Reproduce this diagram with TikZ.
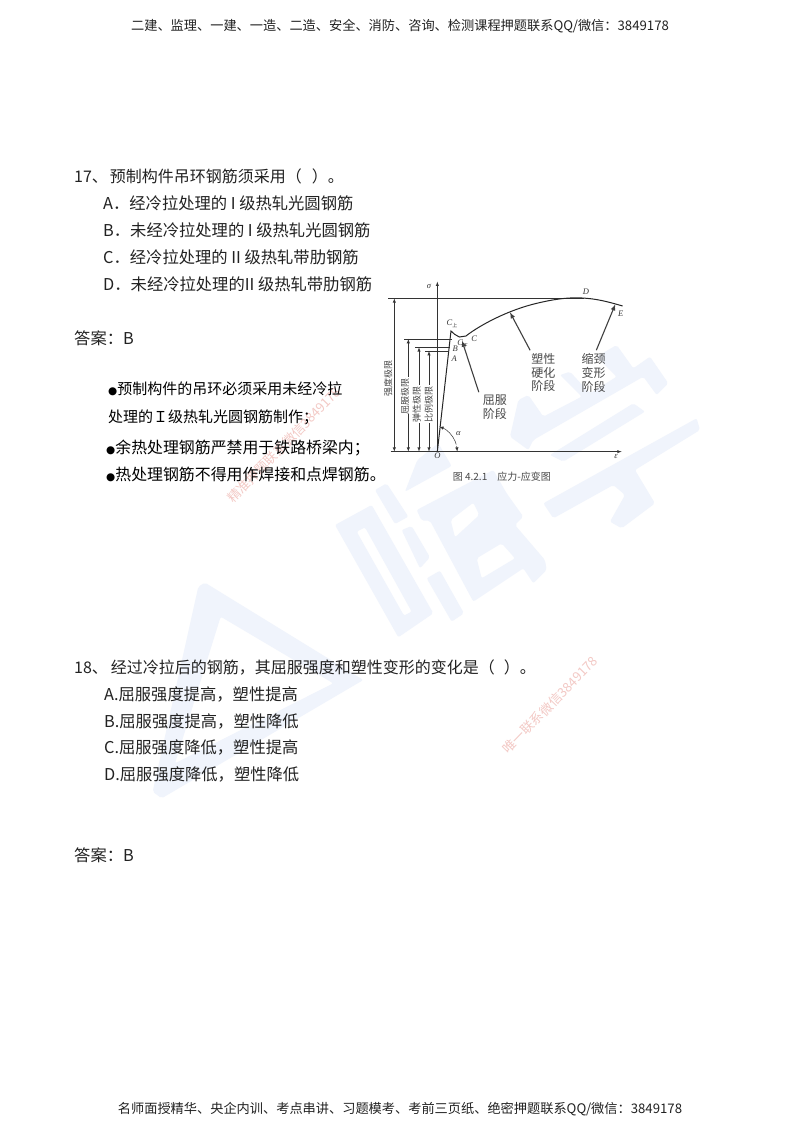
\documentclass[tikz,border=0pt]{standalone}
\usepackage{fontspec}
\setmainfont{Noto Sans CJK SC}
\newfontfamily\figfont{Liberation Serif}
\newfontfamily\dotfont{DejaVu Sans}
\usepackage{xcolor}
\definecolor{wmblue}{HTML}{F0F4FC}
\definecolor{wmred}{HTML}{F3C9C5}
\definecolor{figgray}{HTML}{484848}
\definecolor{inkblack}{HTML}{222222}
\usetikzlibrary{positioning}
\newcommand{\sized}[1]{\fontsize{#1}{#1}\selectfont}
\newcommand{\blob}{{\dotfont\sized{10.5}●}}
\newcommand{\lowmark}[1]{\raisebox{-1.5pt}{\normalfont\sized{5}#1}}
\tikzset{
    banner/.style={anchor=center, inner sep=0pt, text=inkblack, font=\sized{13.2}},
    body/.style={anchor=base west, inner sep=0pt, text=inkblack, font=\sized{16.3}},
    lead/.style={body, font=\sized{16}},
    note/.style={anchor=base west, inner sep=0pt, text=black, font=\sized{15}},
    notewide/.style={note, font=\sized{15.9}},
    stamp/.style={rotate=46, inner sep=0pt, text=wmred, font=\sized{13}},
    wm/.style={fill=wmblue, draw=none, rounded corners=2pt},
    stagetext/.style={inner sep=0pt, text=figgray, font=\sized{12}},
    limittext/.style={rotate=90, inner sep=0pt, text=figgray, font=\sized{9}},
    letter/.style={inner sep=0pt, text=black!80, font=\figfont\itshape\sized{8.5}},
    figline/.style={draw=black!80, line width=0.5pt},
    leader/.style={draw=black!75, line width=1.1pt, ->, >=latex},
}
\begin{document}
\begin{tikzpicture}[x=1pt,y=-1pt,>=latex]
\useasboundingbox (0,0) rectangle (800,1132);
\fill[white] (0,0) rectangle (800,1132);
% watermark, triangle
\begin{scope}[shift={(130,570)},x=0.3333pt,y=-0.3333pt]
\fill[wm,even odd rule] (205,50) -- (225,38) -- (700,330) -- (95,685) -- (68,665) -- cycle
 (272,140) -- (610,340) -- (135,580) -- cycle;
\end{scope}
% watermark, left word
\begin{scope}[shift={(330,450)},x=0.3333pt,y=-0.3333pt]
\fill[wm,even odd rule] (15,225) -- (125,165) -- (310,490) -- (205,562) -- cycle
 (80,245) -- (105,232) -- (245,485) -- (222,497) -- cycle;
\fill[wm] (135,120) -- (170,100) -- (235,200) -- (195,222) -- cycle;
\fill[wm] (215,240) -- (245,228) -- (300,322) -- (270,355) -- cycle;
\fill[wm] (290,385) -- (330,362) -- (402,490) -- (365,515) -- cycle;
\fill[wm] (225,125) -- (262,30) -- (325,-20) -- (365,48) -- cycle;
\fill[wm,even odd rule] (260,180) -- (490,60) -- (530,130) -- (580,200) -- (555,225)
 -- (645,330) -- (650,360) -- (610,400) -- (580,355) -- (430,455) -- (300,212) -- (275,212) -- cycle
 (362,210) -- (430,158) -- (448,195) -- (375,262) -- cycle
 (440,325) -- (515,280) -- (555,325) -- (455,385) -- cycle;
\end{scope}
% watermark, right word
\begin{scope}[shift={(500,340)},x=0.3333pt,y=-0.3333pt]
\fill[wm] (55,180) -- (85,165) -- (130,230) -- (245,170) -- (180,105) -- (210,95) -- (270,160)
 -- (350,110) -- (290,50) -- (350,15) -- (400,85) -- (450,50) -- (505,130) -- (470,165)
 -- (430,110) -- (100,300) -- (85,330) -- (30,290) -- cycle;
\fill[wm] (150,345) -- (190,365) -- (435,215) -- (400,190) -- cycle;
\fill[wm] (130,490) -- (590,235) -- (600,270) -- (405,390) -- (465,490) -- (365,565)
 -- (330,545) -- (375,465) -- (340,435) -- (160,535) -- cycle;
\end{scope}
\node[stamp] (stampa) at (284,445) {精准押题联系微信3849178};
\node[stamp] (stampb) at (550,705) {唯一联系微信3849178};
% header and footer
\node[banner] (top) at (400,26) {二建、监理、一建、一造、二造、安全、消防、咨询、检测课程押题联系QQ/微信：3849178};
\node[banner] (bottom) at (400,1109) {名师面授精华、央企内训、考点串讲、习题模考、考前三页纸、绝密押题联系QQ/微信：3849178};
% question 17
\node[lead] (qa) at (74,182) {17、\hspace{2pt}预制构件吊环钢筋须采用（\hspace{10pt}）。};
\node[body] (qaa) at (103,209) {A．经冷拉处理的 I 级热轧光圆钢筋};
\node[body] (qab) at (103,236) {B．未经冷拉处理的 I 级热轧光圆钢筋};
\node[body] (qac) at (103,263) {C．经冷拉处理的 II 级热轧带肋钢筋};
\node[body] (qad) at (103,290) {D．未经冷拉处理的II 级热轧带肋钢筋};
\node[body] (ansa) at (74,344) {答案：B};
\node[note] (nta) at (108,394) {\blob 预制构件的吊环必须采用未经冷拉};
\node[note] (ntb) at (108,422) {处理的Ｉ级热轧光圆钢筋制作；};
\node[notewide] (ntc) at (106,453) {\blob 余热处理钢筋严禁用于铁路桥梁内；};
\node[notewide] (ntd) at (106,480) {\blob 热处理钢筋不得用作焊接和点焊钢筋。};
% question 18
\node[lead] (qb) at (74,673) {18、\hspace{3pt}经过冷拉后的钢筋，其屈服强度和塑性变形的变化是（\hspace{9pt}）。};
\node[body] (qba) at (104,700) {A.屈服强度提高，塑性提高};
\node[body] (qbb) at (104,727) {B.屈服强度提高，塑性降低};
\node[body] (qbc) at (104,753) {C.屈服强度降低，塑性提高};
\node[body] (qbd) at (104,780) {D.屈服强度降低，塑性降低};
\node[body] (ansb) at (74,861) {答案：B};
% stress-strain figure
\begin{scope}[shift={(380,270)},x=0.3333pt,y=-0.3333pt]
\coordinate (xs) at (32,545);
\coordinate (xe) at (725,545);
\coordinate (org) at (172,545);
\coordinate (ye) at (172,35);
\coordinate (tl) at (25,85);
\coordinate (tr) at (612,85);
\draw[figline,->] (xs) -- (xe);
\draw[figline,->] (org) -- (ye);
\draw[figline] (tl) -- (tr);
% curve
\draw[draw=black!85,line width=1pt] (org) -- (213,183) -- (224,193) -- (238,201) -- (258,198)
 .. controls (300,165) and (385,120) .. (470,100)
 .. controls (520,88) and (570,80) .. (620,85)
 .. controls (660,88) and (700,100) .. (728,108);
\coordinate (yu) at (72,207);
\coordinate (yr) at (216,207);
\coordinate (eu) at (105,232);
\coordinate (er) at (210,232);
\coordinate (pu) at (135,243);
\coordinate (pr) at (207,243);
\draw[figline] (yu) -- (yr);
\draw[figline] (eu) -- (er);
\draw[figline] (pu) -- (pr);
% limits
\node[limittext] (ltu) at (25,325) {强度极限};
\node[limittext] (lty) at (75,380) {屈服极限};
\node[limittext] (lte) at (110,405) {弹性极限};
\node[limittext] (ltp) at (146,405) {比例极限};
\draw[figline,<->] (43,85) coordinate (ua) -- (43,545) coordinate (ub);
\draw[figline,->] (85,320) coordinate (ya) -- (85,207) coordinate (yb);
\draw[figline,->] (85,432) coordinate (yc) -- (85,545) coordinate (yd);
\draw[figline,->] (117,345) coordinate (ea) -- (117,232) coordinate (eb);
\draw[figline,->] (117,460) coordinate (ec) -- (117,545) coordinate (ed);
\draw[figline,->] (147,345) coordinate (pa) -- (147,243) coordinate (pb);
\draw[figline,->] (147,460) coordinate (pc) -- (147,545) coordinate (pd);
% angle
\draw[figline,<-] (178,470) coordinate (ana) .. controls (200,478) and (218,495) .. (226,515) coordinate (anb);
\draw[figline,dashed] (anb) -- (230,528);
\draw[figline,->] (230,528) -- (232,545);
% stages
\node[stagetext] (sta) at (345,391) {屈服};
\node[stagetext,below=2pt of sta] (stb) {阶段};
\node[stagetext] (hda) at (490,268) {塑性};
\node[stagetext,below=2pt of hda] (hdb) {硬化};
\node[stagetext,below=2pt of hdb] (hdc) {阶段};
\node[stagetext] (nka) at (641,268) {缩颈};
\node[stagetext,below=2pt of nka] (nkb) {变形};
\node[stagetext,below=2pt of nkb] (nkc) {阶段};
\coordinate (cl) at (246,212);
\coordinate (hp) at (390,127);
\coordinate (ep) at (706,103);
\draw[leader] (sta.north west) ++(-12,-8) coordinate (sl) -- (cl);
\draw[leader] (hda.north west) ++(-3,-10) coordinate (hl) -- (hp);
\draw[leader] (nka.north) ++(8,-10) coordinate (nl) -- (ep);
% letters
\node[letter] (sg) at (147,50) {σ};
\node[letter] (ld) at (618,65) {D};
\node[letter] (lk) at (722,130) {E};
\node[letter] (lcu) at (216,162) {C\lowmark{上}};
\node[letter] (lc) at (283,207) {C};
\node[letter] (lcd) at (248,222) {C\lowmark{下}};
\node[letter] (lb) at (226,236) {B};
\node[letter] (la) at (223,267) {A};
\node[letter] (lo) at (172,558) {O};
\node[letter] (lt) at (708,561) {ε};
\node[letter] (lan) at (235,490) {α};
% caption
\node[inner sep=0pt,anchor=west,text=figgray,font=\sized{10}] (cap) at (218,620) {图 4.2.1\quad 应力-应变图};
\end{scope}
\end{tikzpicture}
\end{document}
